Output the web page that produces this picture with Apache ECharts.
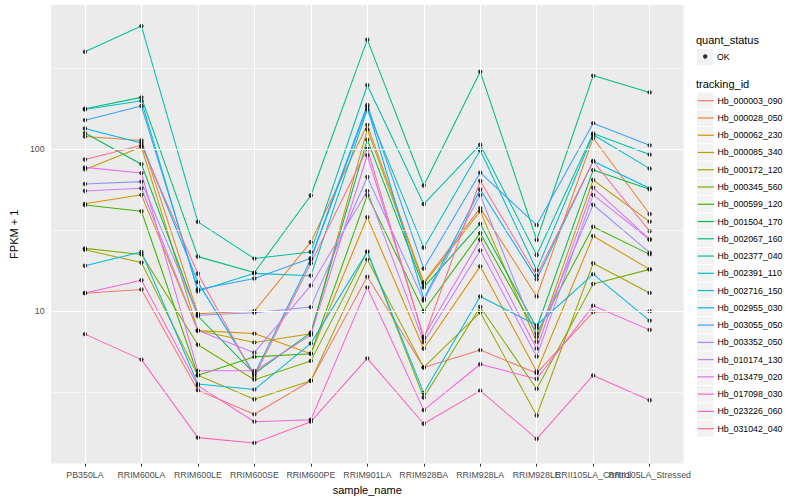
<!DOCTYPE html>
<html><head><meta charset="utf-8">
<script src="https://cdn.jsdelivr.net/npm/echarts@6/dist/echarts.min.js"></script>
<style>html,body{margin:0;padding:0;background:#fff}#c{width:800px;height:500px}</style>
</head><body><div id="c"></div>
<script>
const categories = ['PB350LA','RRIM600LA','RRIM600LE','RRIM600SE','RRIM600PE','RRIM901LA','RRIM928BA','RRIM928LA','RRIM928LE','RRII105LA_Control','RRII105LA_Stressed'];
const trackingIds = ['Hb_000003_090','Hb_000028_050','Hb_000062_230','Hb_000085_340','Hb_000172_120','Hb_000345_560','Hb_000599_120','Hb_001504_170','Hb_002067_160','Hb_002377_040','Hb_002391_110','Hb_002716_150','Hb_002955_030','Hb_003055_050','Hb_003352_050','Hb_010174_130','Hb_013479_020','Hb_017098_030','Hb_023226_060','Hb_031042_040'];
const colors = ['#F8766D','#EA8331','#D89000','#C09B00','#A3A500','#7CAE00','#39B600','#00BB4E','#00BF7D','#00C1A3','#00BFC4','#00BAE0','#00B0F6','#35A2FF','#9590FF','#C77CFF','#E76BF3','#FA62DB','#FF62BC','#FF6C91'];

const Hb_000003_090 = [12.9, 13.6, 3.24, 2.30, 3.71, 16.3, 4.48, 5.74, 4.13, 9.86, 9.96];
const Hb_000028_050 = [120, 113.5, 9.63, 10.0, 26.7, 141.7, 15.05, 43.3, 12.3, 117.4, 39.8];
const Hb_000062_230 = [46.0, 52.3, 7.57, 7.26, 5.45, 38.0, 5.85, 18.9, 4.23, 29.1, 18.1];
const Hb_000085_340 = [75.1, 103.4, 7.57, 6.40, 7.23, 132.6, 14.7, 41.4, 6.46, 64.6, 35.7];
const Hb_000172_120 = [23.9, 19.95, 4.01, 2.85, 3.71, 20.8, 4.48, 9.82, 2.26, 19.75, 12.94];
const Hb_000345_560 = [24.4, 22.4, 6.19, 3.76, 4.92, 23.3, 2.92, 10.6, 3.30, 14.7, 18.1];
const Hb_000599_120 = [45.2, 41.4, 4.01, 5.21, 5.45, 52.1, 10.0, 30.3, 7.26, 33.2, 22.4];
const Hb_001504_170 = [126, 80.9, 9.32, 4.11, 7.36, 114.7, 14.0, 34.6, 7.87, 74.4, 56.6];
const Hb_002067_160 = [178.3, 209.4, 21.7, 17.3, 51.8, 476.3, 59.7, 302, 27.5, 285.5, 224.6];
const Hb_002377_040 = [400.6, 577.9, 35.6, 21.1, 23.2, 249, 45.8, 106.9, 22.2, 125.3, 92.8];
const Hb_002391_110 = [176, 199.5, 13.25, 17.1, 16.55, 175.8, 24.65, 98.6, 17.9, 123.0, 75.9];
const Hb_002716_150 = [19.05, 23.2, 3.54, 3.27, 6.31, 23.3, 3.11, 12.3, 8.17, 16.9, 8.72];
const Hb_002955_030 = [134.5, 109.4, 15.1, 4.06, 20.8, 182.6, 11.9, 56.4, 15.7, 84.4, 57.4];
const Hb_003055_050 = [151.4, 185.2, 13.6, 15.9, 21.2, 187.8, 18.3, 71.7, 34.0, 145.1, 105.8];
const Hb_003352_050 = [61.0, 63.1, 9.41, 9.76, 10.58, 67.4, 11.6, 52.1, 6.93, 45.4, 23.0];
const Hb_010174_130 = [55.3, 57.4, 7.57, 5.53, 14.4, 55.3, 6.43, 23.7, 5.23, 52.3, 27.7];
const Hb_013479_020 = [77.3, 71.3, 4.27, 4.27, 7.10, 91.9, 6.93, 27.6, 5.85, 58.0, 27.7];
const Hb_017098_030 = [12.94, 15.5, 3.46, 2.07, 2.13, 14.0, 2.44, 4.69, 3.80, 10.8, 7.65];
const Hb_023226_060 = [7.20, 5.01, 1.65, 1.53, 2.07, 5.10, 2.01, 3.22, 1.62, 4.0, 2.81];
const Hb_031042_040 = [86.5, 105.8, 17.0, 3.94, 19.75, 101.0, 6.74, 63.7, 16.55, 84.4, 31.2];

const seriesValues = [Hb_000003_090, Hb_000028_050, Hb_000062_230, Hb_000085_340, Hb_000172_120, Hb_000345_560, Hb_000599_120, Hb_001504_170, Hb_002067_160, Hb_002377_040, Hb_002391_110, Hb_002716_150, Hb_002955_030, Hb_003055_050, Hb_003352_050, Hb_010174_130, Hb_013479_020, Hb_017098_030, Hb_023226_060, Hb_031042_040];

const yTickLabels = [10, 100];
const yMinorBreaks = [3.1623, 31.623, 316.23];
const yMin = 1.14, yMax = 780;

const FONT = 'Liberation Sans, Arial, sans-serif';
const chart = echarts.init(document.getElementById('c'), null, {renderer: 'svg'});

const catIdx = categories.map((c, i) => i);
const evenIdx = catIdx.filter(i => i % 2 === 0);
const oddIdx = catIdx.filter(i => i % 2 === 1);
const gridLines = [];
yMinorBreaks.forEach(v => gridLines.push({yAxis: v, lineStyle: {width: 0.55}}));
yTickLabels.forEach(v => gridLines.push({yAxis: v, lineStyle: {width: 1.1}}));
catIdx.forEach(i => gridLines.push({xAxis: i, lineStyle: {width: 1.1}}));

const series = [{
  type: 'line', name: '_grid', data: [], silent: true, z: 1,
  markLine: {silent: true, symbol: ['none', 'none'], label: {show: false}, animation: false,
    lineStyle: {color: '#FFFFFF', type: 'solid'}, emphasis: {disabled: true}, data: gridLines}
}];
trackingIds.forEach((id, k) => {
  series.push({
    type: 'line', name: id, symbol: 'none', showSymbol: false, z: 2,
    color: colors[k],
    lineStyle: {color: colors[k], width: 1.05},
    emphasis: {disabled: true},
    data: seriesValues[k].map((v, i) => [i, v])
  });
});
const pts = [];
seriesValues.forEach(arr => arr.forEach((v, i) => pts.push([i, v])));
series.push({type: 'scatter', name: 'OK', symbol: 'circle', symbolSize: 4.4, z: 3,
  itemStyle: {color: '#000000', borderWidth: 0}, emphasis: {disabled: true}, data: pts});

const keyH = 16.3, keyStep = 17.26, firstKeyCenter = 100.7;
const iconBox = keyH * 0.8;
const keyTop = firstKeyCenter - iconBox / 2;
const graphics = [];
graphics.push({type: 'rect', shape: {x: 697, y: 49, width: 16.3, height: 16.3}, style: {fill: '#F2F2F2'}, z: 0, silent: true});
trackingIds.forEach((id, k) => graphics.push({type: 'rect', shape: {x: 697, y: firstKeyCenter - keyH / 2 + k * keyStep, width: 16.3, height: keyH}, style: {fill: '#F2F2F2'}, z: 0, silent: true}));

function xAxisFor(idx, withName) {
  return {
    type: 'value', min: -0.6, max: 10.6, position: 'bottom', gridIndex: 0,
    name: withName ? 'sample_name' : '', nameLocation: 'middle', nameGap: 14,
    nameTextStyle: {fontSize: 11, color: '#000', fontFamily: FONT},
    axisLine: {show: false},
    axisTick: {show: true, length: 3, lineStyle: {color: '#333333', width: 1}, customValues: idx},
    axisLabel: {show: true, customValues: idx, fontSize: 8.8, color: '#4D4D4D', margin: 6.5, fontFamily: FONT,
      showMinLabel: true, showMaxLabel: true, hideOverlap: false,
      formatter: v => categories[Math.round(v)] || ''},
    splitLine: {show: false}
  };
}

chart.setOption({
  animation: false,
  backgroundColor: '#FFFFFF',
  textStyle: {fontFamily: FONT},
  title: [
    {text: 'quant_status', left: 696, top: 34, padding: 0, textStyle: {fontSize: 11, fontWeight: 'normal', color: '#000', fontFamily: FONT}},
    {text: 'tracking_id', left: 696, top: 78, padding: 0, textStyle: {fontSize: 11, fontWeight: 'normal', color: '#000', fontFamily: FONT}}
  ],
  grid: {left: 39.5, right: 116.5, top: 5, bottom: 31.5, show: true, backgroundColor: '#EBEBEB', borderWidth: 0, containLabel: false},
  xAxis: [xAxisFor(evenIdx, true), xAxisFor(oddIdx, false)],
  yAxis: {
    type: 'log', logBase: 10, min: yMin, max: yMax,
    name: 'FPKM + 1', nameLocation: 'middle', nameGap: 24, nameRotate: 90,
    nameTextStyle: {fontSize: 11, color: '#000', fontFamily: FONT},
    axisLine: {show: false},
    axisTick: {show: true, length: 3, lineStyle: {color: '#333333', width: 1}, customValues: yTickLabels},
    axisLabel: {show: true, customValues: yTickLabels, fontSize: 8.8, color: '#4D4D4D', margin: 6.5, fontFamily: FONT,
      showMinLabel: true, showMaxLabel: true,
      formatter: v => String(Math.round(v))},
    splitLine: {show: false}, minorSplitLine: {show: false}
  },
  legend: [
    {data: trackingIds, orient: 'vertical', left: 697, top: keyTop, padding: 0,
      itemWidth: 16.3, itemHeight: keyH, itemGap: keyStep - iconBox, selectedMode: false,
      itemStyle: {opacity: 0, borderWidth: 0}, lineStyle: {width: 1.2},
      textStyle: {fontSize: 8.8, color: '#000', fontFamily: FONT, padding: [0, 0, 0, -1.5]}},
    {data: [{name: 'OK', icon: 'circle'}], orient: 'vertical', left: 703, top: 52, padding: 0,
      itemWidth: 4.4, itemHeight: 4.4, selectedMode: false,
      textStyle: {fontSize: 8.8, color: '#000', fontFamily: FONT, padding: [0, 0, 0, 4.5]}}
  ],
  graphic: graphics,
  series: series
});
</script></body></html>
